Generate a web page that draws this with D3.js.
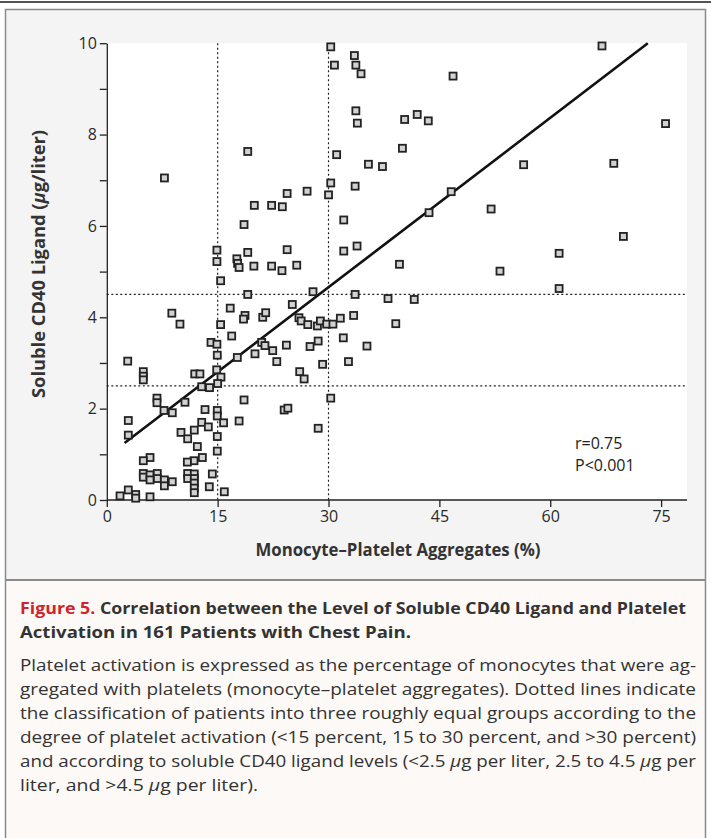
<!DOCTYPE html>
<html><head><meta charset="utf-8">
<script src="https://cdn.jsdelivr.net/npm/d3@7"></script>
<style>html,body{margin:0;padding:0;background:#fff;}svg{display:block;}</style>
</head><body>
<svg id="chart" width="711" height="838"></svg>
<script>
// Monocyte–platelet aggregates (%)
const monocyteAgg = [7.8,30.3,33.5,30.8,33.7,34.4,33.7,33.9,19.07,31.1,35.4,30.3,33.6,24.4,27.1,30.0,46.85,40.3,42.0,43.5,40.0,37.3,46.6,67.0,75.6,56.4,68.6,
14.9,14.9,15.4,17.6,17.7,17.9,8.8,9.9,16.7,15.4,16.9,14.1,14.9,
19.96,22.3,23.75,18.57,32.06,19.07,24.4,32.06,33.86,19.9,22.3,23.7,25.7,19.07,27.9,33.6,25.1,18.7,18.5,21.1,21.5,26.0,26.3,27.2,28.5,28.9,29.75,30.6,31.6,33.4,35.2,
20.96,21.4,24.3,27.5,28.6,32.0,22.45,17.66,20.05,23.0,26.1,26.7,29.2,32.7,18.57,17.9,24.0,24.5,28.6,30.3,
43.6,52.0,39.6,53.2,38.05,41.6,39.1,69.9,61.2,61.2,
14.95,2.83,4.94,4.94,4.94,11.9,12.6,14.87,15.45,15.0,12.84,13.9,6.79,6.79,7.74,8.86,10.58,13.29,14.95,14.95,15.8,
2.91,2.91,10.04,10.94,11.84,12.84,13.74,12.25,14.95,14.95,12.93,11.8,10.9,5.85,4.94,4.94,4.94,5.85,6.83,6.83,5.85,7.79,7.79,8.86,
10.94,11.84,10.94,11.84,11.84,11.84,11.84,14.28,13.87,15.9,1.79,2.91,3.91,3.91,5.85];
// Soluble CD40 ligand (µg/liter)
const solubleCD40L = [7.05,9.92,9.73,9.52,9.52,9.33,8.52,8.25,7.63,7.56,7.35,6.94,6.87,6.71,6.76,6.68,9.28,8.33,8.44,8.30,7.70,7.30,6.75,9.94,8.24,7.34,7.37,
5.47,5.22,4.80,5.28,5.18,5.09,4.09,3.85,4.20,3.84,3.59,3.45,3.41,
6.45,6.45,6.42,6.03,6.13,5.42,5.48,5.45,5.56,5.12,5.12,5.02,5.14,4.50,4.56,4.50,4.28,4.04,3.96,4.0,4.1,3.99,3.92,3.84,3.81,3.92,3.85,3.85,3.98,4.04,3.37,
3.45,3.38,3.39,3.36,3.48,3.55,3.27,3.12,3.20,3.03,2.81,2.65,2.97,3.03,2.19,1.73,1.97,2.01,1.57,2.23,
6.29,6.37,5.16,5.01,4.41,4.39,3.86,5.77,5.40,4.63,
3.17,3.04,2.81,2.71,2.63,2.76,2.76,2.85,2.69,2.55,2.48,2.46,2.23,2.13,1.96,1.91,2.14,1.98,1.96,1.84,1.69,
1.74,1.42,1.48,1.34,1.53,1.70,1.60,1.17,1.39,1.07,0.93,0.86,0.83,0.93,0.86,0.58,0.50,0.55,0.58,0.47,0.44,0.44,0.31,0.40,
0.58,0.57,0.47,0.47,0.37,0.26,0.16,0.57,0.29,0.18,0.09,0.22,0.12,0.04,0.07];

const xTicks = [0,15,30,45,60,75];
const yTicks = [0,1,2,3,4,5,6,7,8,9,10];
const yTickLabels = ["0","","2","","4","","6","","8","","10"];
const groupCutsX = [15,30];
const groupCutsY = [2.5,4.5];
const fitLine = {intercept:0.95, slope:0.1236, xStart:2.4, xEnd:73.2};
const stats = ["r=0.75","P<0.001"];

const svg = d3.select("#chart");
const FONT = "'Open Sans', 'Noto Sans', sans-serif";

// Frame
svg.append("rect").attr("x",0).attr("y",0).attr("width",711).attr("height",838).attr("fill","#fff");
svg.append("line").attr("x1",0).attr("x2",711).attr("y1",2).attr("y2",2).attr("stroke","#555").attr("stroke-width",2);
svg.append("rect").attr("x",5).attr("y",9).attr("width",701).attr("height",571).attr("fill","#f4f4f4");
svg.append("rect").attr("x",5).attr("y",580).attr("width",701).attr("height",260).attr("fill","#fcf9f6");
svg.append("rect").attr("x",5.5).attr("y",9.5).attr("width",700).attr("height",840).attr("fill","none").attr("stroke","#8a8a8a").attr("stroke-width",1.5);
svg.append("line").attr("x1",5).attr("x2",706).attr("y1",580).attr("y2",580).attr("stroke","#8a8a8a").attr("stroke-width",2);

const x = d3.scaleLinear().domain([0,75]).range([106.8,661.1]);
const y = d3.scaleLinear().domain([0,10]).range([500,43.2]);
const xRight = 687;

// white plot area
svg.append("rect").attr("x",x(0)).attr("y",y(10)).attr("width",xRight-x(0)).attr("height",y(0)-y(10)).attr("fill","#fff");

// dotted group lines
const g = svg.append("g");
groupCutsX.forEach(v=>{
  g.append("line").attr("x1",x(v)).attr("x2",x(v)).attr("y1",y(10)).attr("y2",y(0))
   .attr("stroke","#222").attr("stroke-width",1.2).attr("stroke-dasharray","2,2.5");
});
groupCutsY.forEach(v=>{
  g.append("line").attr("x1",x(0)).attr("x2",xRight).attr("y1",y(v)).attr("y2",y(v))
   .attr("stroke","#222").attr("stroke-width",1.2).attr("stroke-dasharray","2,2.5");
});

// axes
const xAxis = d3.axisBottom(x).tickValues(xTicks).tickSize(7).tickPadding(4).tickSizeOuter(0);
const yAxis = d3.axisLeft(y).tickValues(yTicks).tickFormat((d,i)=>yTickLabels[i]).tickSize(7).tickPadding(3).tickSizeOuter(0);
const gx = svg.append("g").attr("transform",`translate(0,${y(0)})`).call(xAxis);
gx.select(".domain").attr("d",`M${x(0)},0H${xRight}`);
const gy = svg.append("g").attr("transform",`translate(${x(0)},0)`).call(yAxis);
[gx,gy].forEach(a=>{
  a.selectAll("path,line").attr("stroke","#222").attr("stroke-width",1.3);
  a.selectAll("text").attr("font-family",FONT).attr("font-size",16).attr("fill","#2a2a2a");
});

// regression line
svg.append("line")
  .attr("x1",x(fitLine.xStart)).attr("y1",y(fitLine.intercept+fitLine.slope*fitLine.xStart))
  .attr("x2",x(fitLine.xEnd)).attr("y2",y(fitLine.intercept+fitLine.slope*fitLine.xEnd))
  .attr("stroke","#111").attr("stroke-width",2.6);

// points
const pts = monocyteAgg.map((v,i)=>({x:v,y:solubleCD40L[i]}));
svg.append("g").selectAll("rect").data(pts).join("rect")
  .attr("x",d=>x(d.x)-3.5).attr("y",d=>y(d.y)-3.5).attr("width",7).attr("height",7)
  .attr("fill","#d2d2d2").attr("stroke","#222").attr("stroke-width",1.8);

// stats
stats.forEach((s,i)=>{
  svg.append("text").attr("x",575).attr("y",449+i*22).text(s)
    .attr("font-family",FONT).attr("font-size",16).attr("fill","#222");
});

// axis titles
svg.append("text").attr("x",398).attr("y",556).attr("text-anchor","middle")
  .attr("font-family",FONT).attr("font-size",17).attr("font-weight","bold").attr("fill","#333")
  .attr("textLength",285).attr("lengthAdjust","spacingAndGlyphs")
  .text("Monocyte–Platelet Aggregates (%)");
const yt = svg.append("text").attr("transform","translate(45,264) rotate(-90)").attr("text-anchor","middle")
  .attr("font-family",FONT).attr("font-size",17).attr("font-weight","bold").attr("fill","#333")
  .attr("textLength",268).attr("lengthAdjust","spacingAndGlyphs");
yt.append("tspan").text("Soluble CD40 Ligand (");
yt.append("tspan").attr("font-style","italic").text("μ");
yt.append("tspan").text("g/liter)");

// caption
const cap = svg.append("g").attr("font-family",FONT).attr("font-size",16.5);
const t1 = cap.append("text").attr("x",20).attr("y",614).attr("font-weight","bold").attr("textLength",666).attr("lengthAdjust","spacingAndGlyphs");
t1.append("tspan").attr("fill","#d2232a").text("Figure 5. ");
t1.append("tspan").attr("fill","#333").text("Correlation between the Level of Soluble CD40 Ligand and Platelet");
cap.append("text").attr("x",20).attr("y",638).attr("font-weight","bold").attr("fill","#333")
  .attr("textLength",391).attr("lengthAdjust","spacingAndGlyphs").text("Activation in 161 Patients with Chest Pain.");

const bodyLines = [
  [["Platelet activation is expressed as the percentage of monocytes that were ag-",false]],
  [["gregated with platelets (monocyte–platelet aggregates). Dotted lines indicate",false]],
  [["the classification of patients into three roughly equal groups according to the",false]],
  [["degree of platelet activation (<15 percent, 15 to 30 percent, and >30 percent)",false]],
  [["and according to soluble CD40 ligand levels (<2.5 ",false],["μ",true],["g per liter, 2.5 to 4.5 ",false],["μ",true],["g per",false]],
  [["liter, and >4.5 ",false],["μ",true],["g per liter).",false]]
];
const bodyWidths = [676,676,676,676,676,238];
bodyLines.forEach((parts,i)=>{
  const t = cap.append("text").attr("x",20).attr("y",671+i*24).attr("fill","#333")
    .attr("textLength",bodyWidths[i]).attr("lengthAdjust","spacingAndGlyphs");
  parts.forEach(p=>t.append("tspan").attr("font-style",p[1]?"italic":null).text(p[0]));
});
</script>
</body></html>
